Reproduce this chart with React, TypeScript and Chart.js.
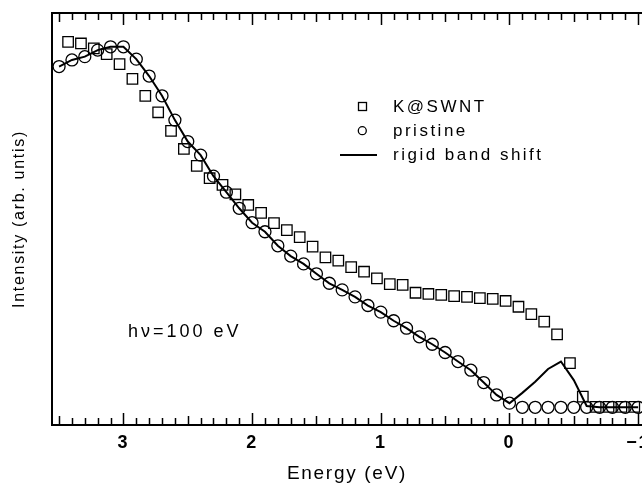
import React, { useEffect, useRef } from "react";
import { Chart, registerables } from "chart.js";

Chart.register(...registerables);

// Energy grid of the pristine spectrum and the rigid band shift curve (eV)
const pristineEnergy = [
  3.5, 3.4, 3.3, 3.2, 3.1, 3.0, 2.9, 2.8, 2.7, 2.6, 2.5, 2.4, 2.3, 2.2, 2.1, 2.0,
  1.9, 1.8, 1.7, 1.6, 1.5, 1.4, 1.3, 1.2, 1.1, 1.0, 0.9, 0.8, 0.7, 0.6, 0.5, 0.4,
  0.3, 0.2, 0.1, 0.0, -0.1, -0.2, -0.3, -0.4, -0.5, -0.6, -0.7, -0.8, -0.9, -1.0,
];
const pristineIntensity = [
  87.0, 88.6, 89.4, 91.0, 91.8, 91.8, 88.8, 84.7, 79.9, 74.0, 68.8, 65.5, 60.4, 56.5,
  52.6, 49.1, 46.9, 43.5, 41.0, 39.1, 36.7, 34.4, 32.8, 31.1, 29.0, 27.4, 25.3, 23.5,
  21.4, 19.6, 17.6, 15.4, 13.3, 10.3, 7.3, 5.3, 4.3, 4.3, 4.3, 4.3, 4.3, 4.3, 4.3,
  4.3, 4.3, 4.3,
];

// K@SWNT spectrum
const kswntEnergy = [
  3.43, 3.33, 3.23, 3.13, 3.03, 2.93, 2.83, 2.73, 2.63, 2.53, 2.43, 2.33, 2.23, 2.13,
  2.03, 1.93, 1.83, 1.73, 1.63, 1.53, 1.43, 1.33, 1.23, 1.13, 1.03, 0.93, 0.83, 0.73,
  0.63, 0.53, 0.43, 0.33, 0.23, 0.13, 0.03, -0.07, -0.17, -0.27, -0.37, -0.47, -0.57,
  -0.67, -0.77, -0.87, -0.97,
];
const kswntIntensity = [
  93.0, 92.6, 91.4, 90.0, 87.6, 84.0, 79.9, 75.9, 71.4, 67.0, 62.9, 59.9, 58.3, 56.0,
  53.4, 51.5, 49.0, 47.3, 45.6, 43.3, 40.7, 39.9, 38.3, 37.2, 35.6, 34.2, 34.0, 32.1,
  31.8, 31.6, 31.3, 31.1, 30.8, 30.6, 30.1, 28.7, 26.9, 25.1, 22.0, 15.0, 6.9, 4.4,
  4.4, 4.4, 4.4,
];

// Rigid band shift: follows the pristine curve down to 0 eV, then this tail
const bandShiftEnergy = pristineEnergy;
const bandShiftTail = [7.8, 10.5, 13.6, 15.4, 10.9, 4.6, 4.3, 4.3, 4.3, 4.3];
const bandShiftIntensity = [...pristineIntensity.slice(0, 36), ...bandShiftTail];

const xTickValues = [3, 2, 1, 0, -1];
const minorTickStep = 0.1;

const SANS = '"Liberation Sans", Arial, Helvetica, sans-serif';
const NARROW = '"Liberation Sans Narrow", "Arial Narrow", "Liberation Sans", sans-serif';

const toPoints = (xs: number[], ys: number[]) => xs.map((x, i) => ({ x, y: ys[i] }));

const framePlugin = {
  id: "frame",
  beforeDraw(chart: any) {
    (chart.ctx as any).letterSpacing = "1.7px";
  },
  afterDraw(chart: any) {
    const { ctx, chartArea: a, scales } = chart;
    const x = scales.x;
    ctx.save();
    (ctx as any).letterSpacing = "0px";
    ctx.strokeStyle = "#000";
    ctx.fillStyle = "#000";
    // top frame line
    ctx.lineWidth = 2;
    ctx.beginPath();
    ctx.moveTo(a.left - 1, a.top);
    ctx.lineTo(a.right, a.top);
    ctx.stroke();
    // inward tick marks, bottom and top
    ctx.lineWidth = 1.5;
    const lo = Math.ceil(Math.min(x.min, x.max) / minorTickStep - 1e-6);
    const hi = Math.floor(Math.max(x.min, x.max) / minorTickStep + 1e-6);
    for (let i = lo; i <= hi; i++) {
      const v = i * minorTickStep;
      const px = Math.round(x.getPixelForValue(v)) + 0.5;
      const major = i % 10 === 0;
      const half = !major && Math.abs(i) % 5 === 0;
      const len = major ? 12 : half ? 9 : 7;
      ctx.beginPath();
      ctx.moveTo(px, a.bottom);
      ctx.lineTo(px, a.bottom - len);
      ctx.moveTo(px, a.top);
      ctx.lineTo(px, a.top + len);
      ctx.stroke();
    }
    // legend
    ctx.font = `17px ${SANS}`;
    (ctx as any).letterSpacing = "2.5px";
    ctx.textAlign = "left";
    ctx.textBaseline = "alphabetic";
    ctx.lineWidth = 1.3;
    ctx.strokeRect(358.5, 102.5, 8, 8);
    ctx.fillText("K@SWNT", 393, 111.5);
    ctx.beginPath();
    ctx.arc(362.3, 130.7, 4, 0, Math.PI * 2);
    ctx.stroke();
    ctx.fillText("pristine", 393, 135.5);
    ctx.lineWidth = 2;
    ctx.beginPath();
    ctx.moveTo(340, 155);
    ctx.lineTo(377, 155);
    ctx.stroke();
    ctx.fillText("rigid band shift", 393, 159.5);
    // annotation
    ctx.font = `18px ${SANS}`;
    (ctx as any).letterSpacing = "3px";
    ctx.fillText("hν=100 eV", 128, 337);
    ctx.restore();
  },
};

export default function App() {
  const ref = useRef<HTMLCanvasElement | null>(null);

  useEffect(() => {
    if (!ref.current) return;
    const chart = new Chart(ref.current, {
      type: "scatter",
      data: {
        datasets: [
          {
            label: "rigid band shift",
            data: toPoints(bandShiftEnergy, bandShiftIntensity),
            showLine: true,
            borderColor: "#000",
            borderWidth: 2,
            pointRadius: 0,
            tension: 0,
            fill: false,
          },
          {
            label: "pristine",
            data: toPoints(pristineEnergy, pristineIntensity),
            showLine: false,
            pointStyle: "circle",
            pointRadius: 6,
            pointBorderWidth: 1.3,
            pointBorderColor: "#000",
            pointBackgroundColor: "rgba(0,0,0,0)",
          },
          {
            label: "K@SWNT",
            data: toPoints(kswntEnergy, kswntIntensity),
            showLine: false,
            pointStyle: "rect",
            pointRadius: 7.4,
            pointBorderWidth: 1.3,
            pointBorderColor: "#000",
            pointBackgroundColor: "rgba(0,0,0,0)",
          },
        ],
      },
      options: {
        animation: false,
        responsive: true,
        maintainAspectRatio: false,
        events: [],
        layout: { autoPadding: false, padding: { top: 13, right: 0, left: 0, bottom: 0 } },
        plugins: { legend: { display: false }, tooltip: { enabled: false } },
        scales: {
          x: {
            type: "linear",
            position: "bottom",
            reverse: true,
            min: -1.03,
            max: 3.555,
            grid: { display: false, drawTicks: false },
            border: { display: true, color: "#000", width: 2 },
            afterBuildTicks: (s: any) => {
              s.ticks = xTickValues.map((v) => ({ value: v }));
            },
            ticks: {
              autoSkip: false,
              maxRotation: 0,
              padding: 7,
              color: "#000",
              font: { family: NARROW, size: 18, weight: "bold" },
              callback: (v: any) => (Number(v) < 0 ? "\u2212" + Math.abs(Number(v)) : String(v)),
            },
            title: {
              display: true,
              text: "Energy (eV)",
              color: "#000",
              font: { family: SANS, size: 19, lineHeight: 1.2 },
              padding: { top: 0, bottom: 1 },
            },
            afterFit: (s: any) => {
              s.height = 61;
              s.paddingLeft = 0;
              s.paddingRight = 0;
            },
          },
          y: {
            type: "linear",
            min: 0,
            max: 100,
            grid: { display: false, drawTicks: false },
            border: { display: true, color: "#000", width: 2 },
            ticks: { display: false },
            title: {
              display: true,
              text: "Intensity (arb. untis)",
              color: "#000",
              font: { family: SANS, size: 16, lineHeight: 1.2 },
              padding: { top: 10, bottom: 0 },
            },
            afterFit: (s: any) => {
              s.width = 52;
              s.paddingTop = 0;
              s.paddingBottom = 0;
            },
          },
        },
      } as any,
      plugins: [framePlugin],
    });
    return () => chart.destroy();
  }, []);

  return (
    <div style={{ position: "fixed", left: 0, top: 0, width: 642, height: 486, background: "#fff" }}>
      <canvas ref={ref} />
    </div>
  );
}
